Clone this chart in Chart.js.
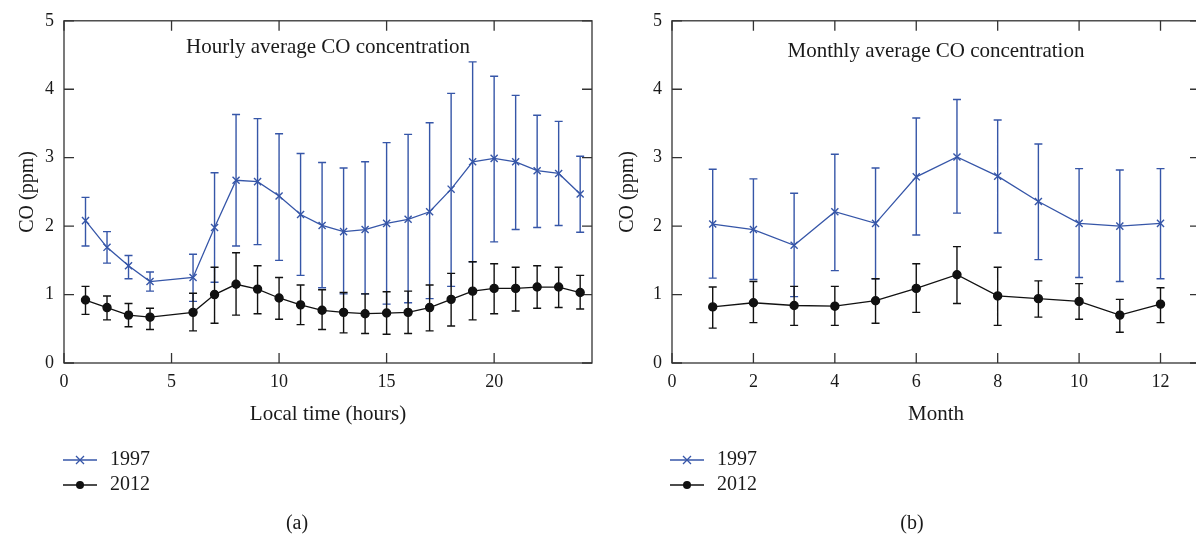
<!DOCTYPE html>
<html>
<head>
<meta charset="utf-8">
<script src="https://cdn.jsdelivr.net/npm/chart.js@4/dist/chart.umd.min.js"></script>
<style>
  html, body { margin: 0; padding: 0; background: #fff; overflow: hidden; width: 1196px; height: 537px; }
  .panel { position: absolute; top: 0; }
  #izq { left: 0; }
  #der { left: 600px; }
</style>
</head>
<body>
<div class="panel" id="izq"><canvas id="graficaHoras" width="600" height="537"></canvas></div>
<div class="panel" id="der"><canvas id="graficaMeses" width="600" height="537"></canvas></div>
<script>
// (a) promedio horario, la hora 5 no tiene dato
const horas = [1, 2, 3, 4, 6, 7, 8, 9, 10, 11, 12, 13, 14, 15, 16, 17, 18, 19, 20, 21, 22, 23, 24];
const horas1997 = [2.08, 1.69, 1.42, 1.19, 1.25, 1.98, 2.67, 2.65, 2.44, 2.17, 2.01, 1.92, 1.95, 2.04, 2.10, 2.21, 2.54, 2.94, 2.99, 2.94, 2.81, 2.77, 2.47];
const horas1997Alto = [2.42, 1.92, 1.57, 1.33, 1.59, 2.78, 3.63, 3.57, 3.35, 3.06, 2.93, 2.85, 2.94, 3.22, 3.34, 3.51, 3.94, 4.40, 4.19, 3.91, 3.62, 3.53, 3.02];
const horas1997Bajo = [1.71, 1.46, 1.23, 1.05, 0.90, 1.18, 1.71, 1.73, 1.50, 1.28, 1.10, 1.01, 1.01, 0.86, 0.88, 0.94, 1.12, 1.48, 1.77, 1.95, 1.98, 2.01, 1.91];
const horas2012 = [0.92, 0.81, 0.70, 0.67, 0.74, 1.00, 1.15, 1.08, 0.95, 0.85, 0.77, 0.74, 0.72, 0.73, 0.74, 0.81, 0.93, 1.05, 1.09, 1.09, 1.11, 1.11, 1.03];
const horas2012Alto = [1.12, 0.98, 0.87, 0.80, 1.02, 1.40, 1.61, 1.42, 1.25, 1.14, 1.07, 1.03, 1.01, 1.04, 1.05, 1.14, 1.31, 1.48, 1.45, 1.40, 1.42, 1.40, 1.28];
const horas2012Bajo = [0.71, 0.63, 0.53, 0.49, 0.47, 0.58, 0.70, 0.72, 0.64, 0.56, 0.49, 0.44, 0.43, 0.42, 0.43, 0.47, 0.54, 0.63, 0.72, 0.76, 0.80, 0.81, 0.79];
const horasTicks = [0, 5, 10, 15, 20];

// (b) promedio mensual
const meses = [1, 2, 3, 4, 5, 6, 7, 8, 9, 10, 11, 12];
const meses1997 = [2.03, 1.95, 1.72, 2.21, 2.04, 2.72, 3.01, 2.73, 2.36, 2.04, 2.00, 2.04];
const meses1997Alto = [2.83, 2.69, 2.48, 3.05, 2.85, 3.58, 3.85, 3.55, 3.20, 2.84, 2.82, 2.84];
const meses1997Bajo = [1.24, 1.22, 0.97, 1.35, 1.23, 1.87, 2.19, 1.90, 1.51, 1.25, 1.19, 1.23];
const meses2012 = [0.82, 0.88, 0.84, 0.83, 0.91, 1.09, 1.29, 0.98, 0.94, 0.90, 0.70, 0.86];
const meses2012Alto = [1.11, 1.19, 1.12, 1.12, 1.23, 1.45, 1.70, 1.40, 1.20, 1.16, 0.93, 1.10];
const meses2012Bajo = [0.51, 0.59, 0.55, 0.55, 0.58, 0.74, 0.87, 0.55, 0.67, 0.64, 0.45, 0.59];
const mesesTicks = [0, 2, 4, 6, 8, 10, 12];

const yTicks = [0, 1, 2, 3, 4, 5];

const AZUL = '#3656a8';
const NEGRO = '#111111';
const FUENTE = '"Liberation Serif", "DejaVu Serif", serif';

Chart.defaults.font.family = FUENTE;
Chart.defaults.color = '#1a1a1a';

// marco cerrado con marcas hacia adentro en los cuatro lados
const marco = {
  id: 'marco',
  beforeDatasetsDraw(chart) {
    const { ctx, chartArea: a, scales: { x, y } } = chart;
    ctx.save();
    ctx.strokeStyle = '#333';
    ctx.lineWidth = 1.3;
    ctx.strokeRect(a.left, a.top, a.right - a.left, a.bottom - a.top);
    ctx.beginPath();
    x.ticks.forEach(t => {
      const px = x.getPixelForValue(t.value);
      ctx.moveTo(px, a.bottom); ctx.lineTo(px, a.bottom - 10);
      ctx.moveTo(px, a.top); ctx.lineTo(px, a.top + 10);
    });
    y.ticks.forEach(t => {
      const py = y.getPixelForValue(t.value);
      ctx.moveTo(a.left, py); ctx.lineTo(a.left + 10, py);
      ctx.moveTo(a.right, py); ctx.lineTo(a.right - 10, py);
    });
    ctx.stroke();
    ctx.restore();
  }
};

const barrasError = {
  id: 'barrasError',
  beforeDatasetsDraw(chart) {
    const { ctx, scales: { x, y } } = chart;
    chart.data.datasets.forEach(ds => {
      ctx.save();
      ctx.strokeStyle = ds.borderColor;
      ctx.lineWidth = 1.4;
      ctx.beginPath();
      ds.data.forEach((p, i) => {
        const px = x.getPixelForValue(p.x);
        const y1 = y.getPixelForValue(ds.bajo[i]);
        const y2 = y.getPixelForValue(ds.alto[i]);
        ctx.moveTo(px, y1); ctx.lineTo(px, y2);
        ctx.moveTo(px - 4, y1); ctx.lineTo(px + 4, y1);
        ctx.moveTo(px - 4, y2); ctx.lineTo(px + 4, y2);
      });
      ctx.stroke();
      ctx.restore();
    });
  }
};

// titulo interno, leyenda abajo y etiqueta del panel
const textos = {
  id: 'textos',
  afterDraw(chart, args, opts) {
    const { ctx, chartArea: a } = chart;
    ctx.save();
    ctx.fillStyle = '#1a1a1a';
    ctx.textBaseline = 'middle';
    ctx.textAlign = 'center';
    ctx.font = '21px ' + FUENTE;
    ctx.fillText(opts.titulo, opts.tituloX, opts.tituloY);

    ctx.font = '20px ' + FUENTE;
    ctx.fillText(opts.panel, opts.panelX, 524);

    ctx.textAlign = 'left';
    chart.data.datasets.forEach((ds, i) => {
      const yy = 460 + i * 25;
      const x0 = opts.leyendaX;
      ctx.strokeStyle = ds.borderColor;
      ctx.fillStyle = ds.borderColor;
      ctx.lineWidth = 1.3;
      ctx.beginPath();
      ctx.moveTo(x0, yy); ctx.lineTo(x0 + 34, yy);
      ctx.stroke();
      const cx = x0 + 17;
      if (ds.pointStyle === 'crossRot') {
        ctx.beginPath();
        ctx.moveTo(cx - 4, yy - 4); ctx.lineTo(cx + 4, yy + 4);
        ctx.moveTo(cx - 4, yy + 4); ctx.lineTo(cx + 4, yy - 4);
        ctx.stroke();
      } else {
        ctx.beginPath();
        ctx.arc(cx, yy, 4, 0, Math.PI * 2);
        ctx.fill();
      }
      ctx.fillStyle = '#1a1a1a';
      ctx.font = '20px ' + FUENTE;
      ctx.fillText(ds.label, x0 + 47, yy);
    });
    ctx.restore();
  }
};

function serie(label, xs, ys, bajo, alto, color, estilo, radio) {
  return {
    label: label,
    data: xs.map((v, i) => ({ x: v, y: ys[i] })),
    bajo: bajo,
    alto: alto,
    borderColor: color,
    backgroundColor: color,
    borderWidth: 1.3,
    pointStyle: estilo,
    pointRadius: radio,
    pointBorderWidth: 1.4,
    pointBackgroundColor: color,
    tension: 0
  };
}

function opciones(xMax, xTicks, anchoY, derecha, tituloX, texto) {
  return {
    responsive: false,
    animation: false,
    layout: { autoPadding: false, padding: { top: 16, right: derecha, left: 0, bottom: 0 } },
    plugins: {
      legend: { display: false },
      tooltip: { enabled: false },
      textos: texto
    },
    scales: {
      x: {
        type: 'linear',
        min: 0,
        max: xMax,
        grid: { display: false, drawTicks: false },
        border: { display: false },
        ticks: { padding: 8, font: { size: 18 }, color: '#1a1a1a' },
        afterBuildTicks: s => { s.ticks = xTicks.map(v => ({ value: v })); },
        afterFit: s => { s.height = 174; s.paddingLeft = 0; s.paddingRight = 0; },
        title: { display: true, text: tituloX, font: { size: 21 }, color: '#1a1a1a', padding: { top: 0, bottom: 110 } }
      },
      y: {
        min: 0,
        max: 5,
        grid: { display: false, drawTicks: false },
        border: { display: false },
        afterBuildTicks: s => { s.ticks = yTicks.map(v => ({ value: v })); },
        ticks: { padding: 10, font: { size: 18 }, color: '#1a1a1a' },
        afterFit: s => { s.width = anchoY; },
        title: { display: true, text: 'CO (ppm)', font: { size: 20 }, color: '#1a1a1a', padding: { top: 16, bottom: 0 } }
      }
    }
  };
}

new Chart(document.getElementById('graficaHoras').getContext('2d'), {
  type: 'line',
  data: {
    datasets: [
      serie('1997', horas, horas1997, horas1997Bajo, horas1997Alto, AZUL, 'crossRot', 5),
      serie('2012', horas, horas2012, horas2012Bajo, horas2012Alto, NEGRO, 'circle', 4)
    ]
  },
  options: opciones(24.55, horasTicks, 64, 8, 'Local time (hours)',
    { titulo: 'Hourly average CO concentration', tituloX: 328, tituloY: 47, panel: '(a)', panelX: 297, leyendaX: 63 }),
  plugins: [marco, barrasError, textos]
});

new Chart(document.getElementById('graficaMeses').getContext('2d'), {
  type: 'line',
  data: {
    datasets: [
      serie('1997', meses, meses1997, meses1997Bajo, meses1997Alto, AZUL, 'crossRot', 5),
      serie('2012', meses, meses2012, meses2012Bajo, meses2012Alto, NEGRO, 'circle', 4)
    ]
  },
  options: opciones(12.97, mesesTicks, 72, 0, 'Month',
    { titulo: 'Monthly average CO concentration', tituloX: 336, tituloY: 51, panel: '(b)', panelX: 312, leyendaX: 70 }),
  plugins: [marco, barrasError, textos]
});
</script>
</body>
</html>
